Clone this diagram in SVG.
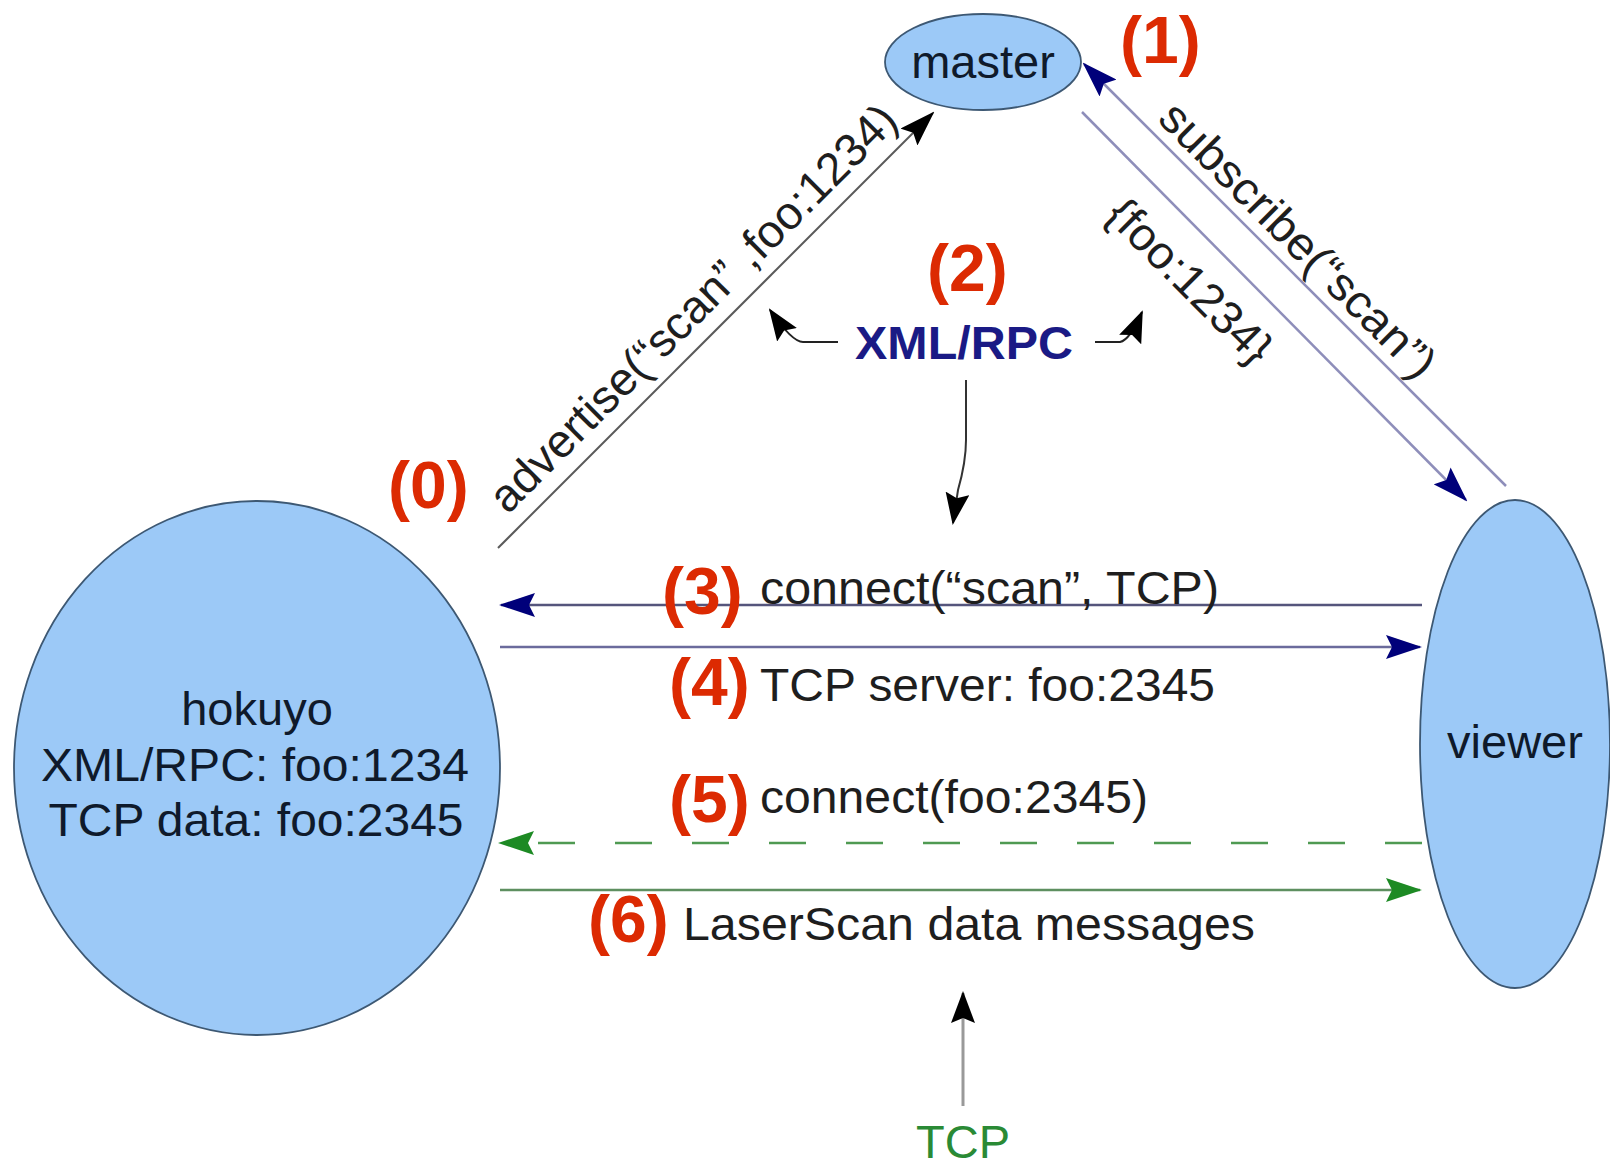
<svg xmlns="http://www.w3.org/2000/svg" width="1610" height="1166" viewBox="0 0 1610 1166">
<defs>
<style>
.node{fill:#9cc9f7;stroke:#3d5873;stroke-width:1.8}
.nt{font-family:"Liberation Sans",Arial,sans-serif;font-size:47px;fill:#0f1a2b;text-anchor:middle}
.et{font-family:"Liberation Sans",Arial,sans-serif;font-size:46px;fill:#1e1e1e}
.num{font-family:"Liberation Sans",Arial,sans-serif;font-size:66px;font-weight:bold;fill:#dc2a02}
.c{fill:none}
</style>
<marker id="aBlack" viewBox="0 0 36 24" refX="34" refY="12" markerWidth="36" markerHeight="24" markerUnits="userSpaceOnUse" orient="auto"><path d="M0,0 L36,12 L0,24 L6,12 z" fill="#000"/></marker>
<marker id="aNavy" viewBox="0 0 36 24" refX="34" refY="12" markerWidth="36" markerHeight="24" markerUnits="userSpaceOnUse" orient="auto"><path d="M0,0 L36,12 L0,24 L6,12 z" fill="#00007a"/></marker>
<marker id="aGreen" viewBox="0 0 36 24" refX="34" refY="12" markerWidth="36" markerHeight="24" markerUnits="userSpaceOnUse" orient="auto"><path d="M0,0 L36,12 L0,24 L6,12 z" fill="#1d8a24"/></marker>
<marker id="aSmall" viewBox="0 0 32 24" refX="30" refY="12" markerWidth="32" markerHeight="24" markerUnits="userSpaceOnUse" orient="auto"><path d="M0,0 L32,12 L0,24 L5,12 z" fill="#000"/></marker>
</defs>
<rect width="1610" height="1166" fill="#fff"/>

<g id="connectors">
<path class="c" d="M498,548 L933,113" stroke="#5a5a5a" stroke-width="2" marker-end="url(#aBlack)"/>
<path class="c" d="M1506,486 L1084,64" stroke="#8e8eba" stroke-width="2.5" marker-end="url(#aNavy)"/>
<path class="c" d="M1082,112 L1466,500" stroke="#8e8eba" stroke-width="2.5" marker-end="url(#aNavy)"/>
<path class="c" d="M1422,605 L501,605" stroke="#55557c" stroke-width="2.5" marker-end="url(#aNavy)"/>
<path class="c" d="M500,647 L1420,647" stroke="#6b6b9c" stroke-width="2.5" marker-end="url(#aNavy)"/>
<path class="c" d="M1422,843 L500,843" stroke="#4f9a52" stroke-width="2.5" stroke-dasharray="37 40" marker-end="url(#aGreen)"/>
<path class="c" d="M500,890 L1420,890" stroke="#5e8f60" stroke-width="2.5" marker-end="url(#aGreen)"/>
<path class="c" d="M838,342 L803,342 Q792,342 770,310" stroke="#222" stroke-width="2" marker-end="url(#aSmall)"/>
<path class="c" d="M1095,342 L1120,342 Q1130,340 1142,312" stroke="#222" stroke-width="2" marker-end="url(#aSmall)"/>
<path class="c" d="M966,380 L966,440 Q966,462 958,490 L953,523" stroke="#333" stroke-width="2" marker-end="url(#aSmall)"/>
<path class="c" d="M963,1106 L963,993" stroke="#999" stroke-width="3" marker-end="url(#aSmall)"/>
</g>

<g id="master">
<ellipse class="node" cx="983" cy="62" rx="98" ry="48"/>
<text class="nt" x="983" y="78">master</text>
</g>

<g id="hokuyo">
<ellipse class="node" cx="257" cy="768" rx="243" ry="267"/>
<text class="nt" x="257" y="725">hokuyo</text>
<text class="nt" x="255" y="781" textLength="428" lengthAdjust="spacingAndGlyphs">XML/RPC: foo:1234</text>
<text class="nt" x="256" y="836" textLength="415" lengthAdjust="spacingAndGlyphs">TCP data: foo:2345</text>
</g>

<g id="viewer">
<ellipse class="node" cx="1515" cy="744" rx="95" ry="244"/>
<text class="nt" x="1515" y="758">viewer</text>
</g>

<g id="labels">
<text class="et" text-anchor="middle" transform="translate(704,319) rotate(-45)" textLength="555" lengthAdjust="spacingAndGlyphs">advertise(“scan” ,foo:1234)</text>
<text class="et" text-anchor="middle" transform="translate(1287,251) rotate(45)" textLength="370" lengthAdjust="spacingAndGlyphs">subscribe(“scan”)</text>
<text class="et" text-anchor="middle" transform="translate(1179,292) rotate(45)" textLength="212" lengthAdjust="spacingAndGlyphs">{foo:1234}</text>
<text x="855" y="359" font-family="Liberation Sans, Arial, sans-serif" font-size="47" font-weight="bold" fill="#1a1a85" textLength="218" lengthAdjust="spacingAndGlyphs">XML/RPC</text>
<text class="et" x="760" y="604" textLength="459" lengthAdjust="spacingAndGlyphs">connect(“scan”, TCP)</text>
<text class="et" x="760" y="701" textLength="455" lengthAdjust="spacingAndGlyphs">TCP server: foo:2345</text>
<text class="et" x="760" y="813" textLength="388" lengthAdjust="spacingAndGlyphs">connect(foo:2345)</text>
<text class="et" x="683" y="940" textLength="572" lengthAdjust="spacingAndGlyphs">LaserScan data messages</text>
<text x="963" y="1158" text-anchor="middle" font-family="Liberation Sans, Arial, sans-serif" font-size="47" fill="#2a8a35">TCP</text>
<text class="num" x="388" y="508">(0)</text>
<text class="num" x="1120" y="63">(1)</text>
<text class="num" x="927" y="291">(2)</text>
<text class="num" x="662" y="614">(3)</text>
<text class="num" x="669" y="705">(4)</text>
<text class="num" x="669" y="822">(5)</text>
<text class="num" x="588" y="942">(6)</text>
</g>
</svg>
